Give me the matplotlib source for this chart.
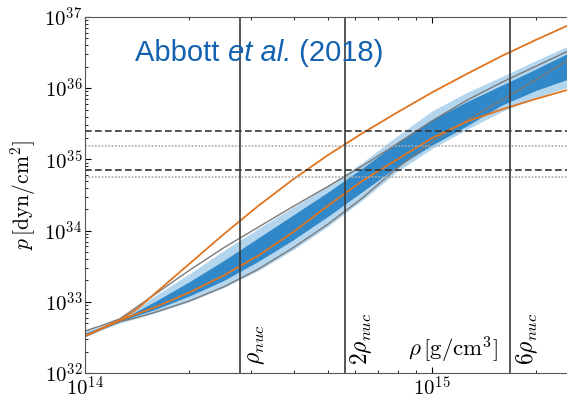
import numpy as np
import matplotlib
matplotlib.use('Agg')
import matplotlib.pyplot as plt

plt.rcParams['mathtext.fontset'] = 'cm'
plt.rcParams['font.family'] = ['DejaVu Serif']

# 密度 (log10 rho, g/cm^3)
log_rho = [14.0, 14.05, 14.1, 14.15, 14.2, 14.3, 14.4, 14.5, 14.6,
           14.7, 14.8, 14.9, 15.0, 15.1, 15.2, 15.3, 15.4]

# 压强 log10 p (dyn/cm^2)
band90_lo = [32.51, 32.61, 32.70, 32.77, 32.84, 33.00, 33.20, 33.44, 33.73,
             34.06, 34.43, 34.83, 35.15, 35.42, 35.67, 35.87, 36.03]
band90_hi = [32.59, 32.67, 32.76, 32.92, 33.08, 33.39, 33.72, 34.03, 34.33,
             34.63, 34.96, 35.33, 35.68, 35.94, 36.16, 36.39, 36.61]
band50_lo = [32.53, 32.63, 32.72, 32.81, 32.89, 33.08, 33.30, 33.57, 33.87,
             34.20, 34.55, 34.90, 35.20, 35.47, 35.76, 35.97, 36.14]
band50_hi = [32.56, 32.65, 32.74, 32.87, 33.00, 33.28, 33.58, 33.90, 34.22,
             34.54, 34.88, 35.24, 35.56, 35.81, 36.04, 36.27, 36.51]
grey_hi = [32.59, 32.67, 32.76, 32.93, 33.10, 33.44, 33.76, 34.05, 34.34,
           34.62, 34.91, 35.22, 35.54, 35.83, 36.08, 36.31, 36.54]
grey_lo = [32.51, 32.62, 32.72, 32.78, 32.85, 33.01, 33.21, 33.46, 33.76,
           34.09, 34.46, 34.88, 35.25, 35.55, 35.83, 36.12, 36.42]
orange_stiff = [32.52, 32.63, 32.74, 32.90, 33.11, 33.53, 33.95, 34.35, 34.72,
                35.06, 35.37, 35.66, 35.94, 36.20, 36.45, 36.68, 36.90]
orange_soft = [32.52, 32.63, 32.74, 32.83, 32.92, 33.13, 33.37, 33.65, 33.98,
               34.35, 34.70, 35.00, 35.30, 35.53, 35.70, 35.85, 35.99]

# 水平参考线
p_dashed = [2.53e35, 7.1e34]
p_dotted = [1.54e35, 5.6e34]

# 核密度
rho_nuc = 2.8e14
nuc_mult = [1, 2, 6]
nuc_labels = [r'$\rho_{nuc}$', r'$2\rho_{nuc}$', r'$6\rho_{nuc}$']

rho = 10 ** np.array(log_rho)
p = lambda a: 10 ** np.array(a)

fig = plt.figure(figsize=(5.67, 3.99), dpi=100)
ax = fig.add_axes([85 / 567, 26 / 399, 482 / 567, 356 / 399])

ax.fill_between(rho, p(band90_lo), p(band90_hi), color='#b3d5ee', lw=0)
ax.fill_between(rho, p(band50_lo), p(band50_hi), color='#3088c8', lw=0)
ax.plot(rho, p(grey_hi), color='#7a7a7a', lw=1.0)
ax.plot(rho, p(grey_lo), color='#7a7a7a', lw=1.0)
ax.plot(rho, p(orange_stiff), color='#e0741f', lw=1.3)
ax.plot(rho, p(orange_soft), color='#e0741f', lw=1.3)

for v in p_dashed:
    ax.axhline(v, color='#333333', lw=1.2, ls=(0, (4, 2)))
for v in p_dotted:
    ax.axhline(v, color='#aaaaaa', lw=1.2, ls=(0, (1, 1)))

for m, lab in zip(nuc_mult, nuc_labels):
    ax.axvline(m * rho_nuc, color='#3a3a3a', lw=1.2)
    ax.text(m * rho_nuc * 1.025, 1.3e32, lab, rotation=90, fontsize=17,
            ha='left', va='bottom')

ax.text(10 ** 15.19, 1.3e32, r'$\rho\,[\mathrm{g/cm^3}]$', fontsize=16.5,
        ha='right', va='bottom')

# 标题文字, 中间 et al. 斜体
blue = '#1262b0'
t1 = ax.text(10 ** 14.145, 10 ** 36.5, 'Abbott ', fontsize=21, color=blue,
             family='Liberation Sans', va='center')
t2 = ax.annotate('et al.', xy=(1, 0), xycoords=t1, va='bottom', fontsize=21,
                 color=blue, family='Liberation Sans', style='italic')
t3 = ax.annotate(' (2018)', xy=(1, 0), xycoords=t2, va='bottom', fontsize=21,
                 color=blue, family='Liberation Sans')

ax.set_xscale('log')
ax.set_yscale('log')
ax.set_xlim(1e14, 10 ** (14 + 482 / 347))
ax.set_ylim(1e32, 1e37)

ax.set_yticks([1e32, 1e33, 1e34, 1e35, 1e36, 1e37])
ax.set_yticklabels([r'$10^{%d}$' % i for i in range(32, 38)], fontsize=15)
ax.set_xticks([1e14, 1e15])
ax.set_xticklabels([r'$10^{14}$', r'$10^{15}$'], fontsize=15)
ax.tick_params(which='both', direction='in', top=True, right=False)
ax.tick_params(which='major', length=4, pad=2)
ax.tick_params(which='minor', length=2)
ax.spines['right'].set_visible(False)
for s in ['left', 'bottom', 'top']:
    ax.spines[s].set_color('#555555')

ax.set_ylabel(r'$p\,[\mathrm{dyn/cm^2}]$', fontsize=15.5)
ax.yaxis.set_label_coords(-0.097, 0.5)

fig.savefig('out.png', dpi=100)
